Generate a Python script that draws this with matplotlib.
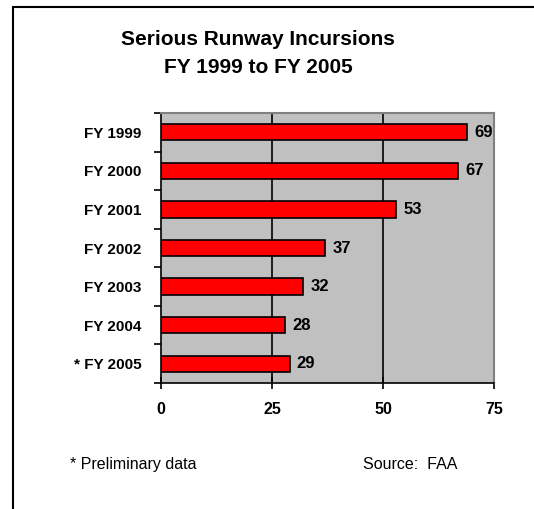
import numpy as np
import matplotlib.pyplot as plt
from matplotlib.patches import Rectangle

years = ["FY 1999", "FY 2000", "FY 2001", "FY 2002", "FY 2003", "FY 2004", "* FY 2005"]
incursions = [69, 67, 53, 37, 32, 28, 29]
xticks = [0, 25, 50, 75]

plt.rcParams['font.family'] = ['Liberation Sans', 'DejaVu Sans']

fig = plt.figure(figsize=(5.34, 5.09), dpi=100)

# frame around the chart (only top and left are visible in the crop)
fig.patches.append(Rectangle((12.5 / 534, -0.2), 1.2, 1.2 - 7 / 509,
                             transform=fig.transFigure, fill=False,
                             edgecolor='black', linewidth=1.5))

ax = fig.add_axes([161 / 534, 1 - 383 / 509, 333 / 534, 270 / 509])
ax.set_facecolor('#C0C0C0')

y = np.arange(len(years))
ax.barh(y, incursions, height=0.42, color='#FF0000', edgecolor='black',
        linewidth=1.2, zorder=3)

for yi, v in zip(y, incursions):
    ax.text(v + 1.6, yi, str(v), va='center', ha='left',
            fontsize=12, fontweight='bold', zorder=4)

ax.set_xlim(0, 75)
ax.set_ylim(len(years) - 0.5, -0.5)

ax.set_xticks(xticks)
ax.set_xticklabels([str(t) for t in xticks], fontsize=11.5, fontweight='bold')
ax.tick_params(axis='x', direction='inout', length=8, width=1.2, pad=10)

ax.set_yticks(y)
ax.set_yticklabels(years, fontsize=11, fontweight='bold')
ax.set_yticks(np.arange(len(years) + 1) - 0.5, minor=True)
ax.tick_params(axis='y', which='major', length=0, pad=14)
ax.tick_params(axis='y', which='minor', direction='out', length=5, width=1.2)

for gx in [25, 50]:
    ax.axvline(gx, color='black', linewidth=1.2, zorder=2)

ax.spines['left'].set_color('black')
ax.spines['left'].set_linewidth(1.2)
ax.spines['bottom'].set_color('black')
ax.spines['bottom'].set_linewidth(1.2)
ax.spines['right'].set_color('#808080')
ax.spines['right'].set_linewidth(1.5)
ax.spines['top'].set_color('#808080')
ax.spines['top'].set_linewidth(1.5)

fig.text(258 / 534, 1 - 45 / 509, "Serious Runway Incursions", ha='center',
         va='baseline', fontsize=15, fontweight='bold')
fig.text(258 / 534, 1 - 73 / 509, "FY 1999 to FY 2005", ha='center',
         va='baseline', fontsize=15, fontweight='bold')

fig.text(70 / 534, 1 - 469 / 509, "* Preliminary data", ha='left',
         va='baseline', fontsize=11.5)
fig.text(363 / 534, 1 - 469 / 509, "Source:  FAA", ha='left',
         va='baseline', fontsize=11.5)

fig.savefig("out.png", dpi=100)
